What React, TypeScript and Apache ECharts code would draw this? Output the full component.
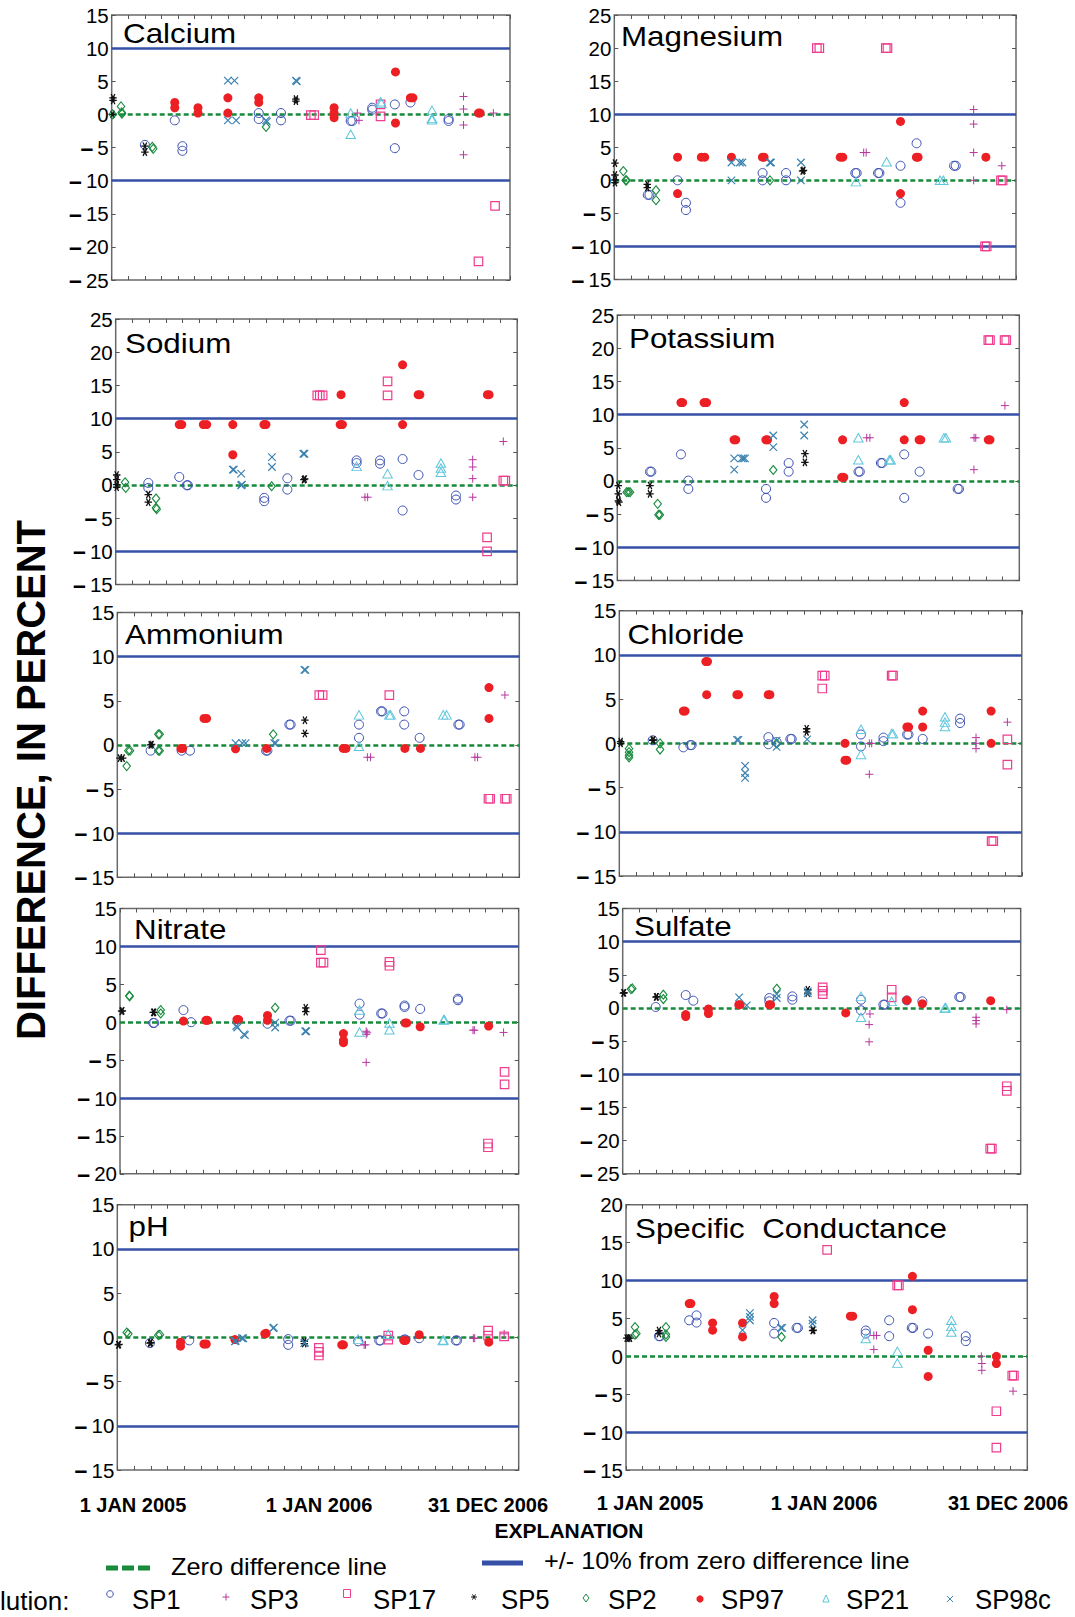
import React, { useEffect, useRef } from 'react';
import * as echarts from 'echarts';

// ---------------- DATA (x = months from start of axis, y = difference in percent) ----------------
const SERIES_NAMES = ['SP1', 'SP3', 'SP17', 'SP5', 'SP2', 'SP97', 'SP21', 'SP98c'];
const DATE_LABELS = ['1 JAN 2005', '1 JAN 2006', '31 DEC 2006'];

// Calcium
const caSP1 = [[2.0,-4.6],[3.8,-0.9],[4.26,-4.8],[4.26,-5.5],[8.86,0.2],[8.86,-0.7],[10.2,0.2],[10.2,-0.9],[14.4,-1.0],[14.5,-1.0],[15.7,0.7],[15.7,1.0],[17.06,1.5],[17.06,-5.1],[18.0,1.8],[20.3,-1.0],[20.3,-0.7]];
const caSP3 = [[14.8,0.2],[14.9,-0.9],[21.2,2.7],[21.2,0.8],[21.2,-1.6],[21.2,-6.1],[23.0,0.2]];
const caSP17 = [[12.0,-0.1],[12.2,-0.1],[16.2,1.5],[16.2,-0.3],[22.1,-22.2],[23.1,-13.8]];
const caSP5 = [[0.08,2.5],[0.08,2.1],[0.05,0],[2.0,-4.8],[2.0,-5.7],[11.1,2.3],[11.1,2.0]];
const caSP2 = [[0.56,1.2],[0.6,0.3],[0.62,0.1],[0.06,0],[2.45,-4.9],[2.5,-5.2],[9.3,-1.9]];
const caSP97 = [[3.8,1.8],[3.8,1.0],[5.2,1.0],[5.2,0.2],[7.0,2.5],[7.0,0.2],[8.86,2.5],[8.86,1.8],[13.4,1.0],[13.4,0.2],[13.4,-0.5],[17.1,6.4],[17.1,-1.3],[18.0,2.5],[18.15,2.5],[22.1,0.2],[22.2,0.2]];
const caSP21 = [[14.4,0.2],[14.4,-3.0],[16.2,1.9],[16.25,1.7],[19.3,0.6],[19.3,-0.6],[19.3,-0.8]];
const caSP98c = [[7.0,5.1],[7.4,5.1],[7.0,-0.9],[7.5,-0.9],[9.3,-0.9],[9.35,-1.1],[11.1,5.1],[11.15,5.0]];

// Magnesium
const mgSP1 = [[2.0,-2.2],[2.1,-2.2],[3.78,0],[4.28,-3.4],[4.28,-4.5],[8.86,1.1],[8.86,0],[10.26,1.1],[10.26,0],[14.4,1.1],[14.48,1.1],[15.76,1.1],[15.84,1.1],[17.1,2.2],[17.1,-3.4],[18.06,5.6],[20.3,2.2],[20.4,2.2]];
const mgSP3 = [[14.9,4.2],[15.05,4.2],[21.47,10.7],[21.47,8.5],[21.47,4.2],[21.47,0],[23.15,2.2]];
const mgSP17 = [[12.1,20],[12.25,20],[16.22,20],[16.32,20],[22.15,-10],[22.25,-10],[23.1,0],[23.2,0]];
const mgSP5 = [[0.04,2.6],[0.04,0.8],[0.04,0.05],[0.04,-0.35],[1.97,-0.6],[1.97,-1.1],[11.25,1.4],[11.3,1.5]];
const mgSP2 = [[0.54,1.4],[0.68,0],[0.73,0],[2.49,-1.5],[2.49,-3.0],[9.3,0]];
const mgSP97 = [[3.78,3.5],[3.78,-2.0],[5.2,3.5],[5.4,3.5],[7.0,3.5],[8.85,3.5],[8.95,3.5],[13.5,3.5],[13.65,3.5],[17.1,8.9],[17.1,-2.0],[18.05,3.5],[18.15,3.5],[22.2,3.5]];
const mgSP21 = [[14.44,-0.2],[16.27,2.8],[19.46,0],[19.66,0]];
const mgSP98c = [[7.0,2.7],[7.5,2.7],[7.65,2.7],[7.0,0],[9.3,2.7],[9.36,2.7],[11.15,2.7],[11.15,0]];

// Sodium
const naSP1 = [[1.95,0.3],[1.95,-0.45],[3.8,1.2],[4.25,-0.05],[4.31,-0.05],[8.88,-1.95],[8.88,-2.45],[10.26,1.0],[10.26,-0.7],[14.4,3.7],[14.4,3.3],[15.8,3.7],[15.8,3.2],[17.15,3.9],[17.15,-3.85],[18.1,1.5],[20.34,-1.6],[20.34,-2.2]];
const naSP3 = [[14.9,-1.85],[15.06,-1.85],[21.34,3.8],[21.34,2.7],[21.34,0.95],[21.34,-1.85],[23.17,6.55]];
const naSP17 = [[12.05,13.5],[12.2,13.5],[12.37,13.5],[16.25,15.6],[16.25,13.5],[22.2,-7.9],[22.2,-10.0],[23.17,0.65],[23.29,0.65]];
const naSP5 = [[0.06,1.5],[0.06,0.8],[0.06,0.05],[0.06,-0.35],[1.95,-1.45],[1.95,-2.6],[11.25,0.8],[11.3,0.9]];
const naSP2 = [[0.56,0.4],[0.6,-0.45],[2.41,-2.05],[2.41,-3.45],[2.45,-3.65],[9.32,-0.2]];
const naSP97 = [[3.8,9.1],[3.95,9.1],[5.24,9.1],[5.44,9.1],[7.0,9.1],[7.0,4.55],[8.86,9.1],[8.98,9.1],[13.47,13.6],[13.42,9.1],[13.55,9.1],[17.15,18.1],[17.15,9.1],[18.08,13.6],[18.18,13.6],[22.22,13.6],[22.32,13.6]];
const naSP21 = [[14.4,2.8],[16.25,1.7],[16.25,-0.1],[19.44,3.3],[19.44,2.55],[19.44,1.9]];
const naSP98c = [[7.0,2.3],[7.06,2.3],[7.5,1.7],[7.5,-0.05],[7.55,0.05],[9.34,4.2],[9.34,2.7],[11.22,4.7],[11.28,4.7]];

// Potassium
const kSP1 = [[1.95,1.4],[2.03,1.4],[3.8,4.0],[4.24,0.05],[4.24,-1.2],[8.88,-1.2],[8.88,-2.55],[10.23,2.7],[10.23,1.4],[14.4,1.4],[14.48,1.4],[15.74,2.7],[15.82,2.7],[17.13,4.0],[17.13,-2.55],[18.05,1.4],[20.32,-1.2],[20.4,-1.2]];
const kSP3 = [[14.89,6.5],[15.08,6.5],[21.29,1.7],[21.3,6.5],[21.4,6.5],[23.14,11.35]];
const kSP17 = [[22.15,21.2],[22.25,21.2],[23.12,21.2],[23.22,21.2]];
const kSP5 = [[0.06,-0.7],[0.06,-1.95],[0.06,-3.0],[0.1,-3.2],[1.95,-0.7],[1.95,-1.95],[11.2,4.1],[11.2,2.8]];
const kSP2 = [[0.56,-1.7],[0.66,-1.7],[0.76,-1.7],[2.41,-3.45],[2.46,-5.1],[2.54,-5.1],[9.31,1.65]];
const kSP97 = [[3.8,11.8],[3.9,11.8],[5.18,11.8],[5.33,11.8],[6.97,6.2],[7.07,6.2],[8.87,6.2],[8.97,6.2],[13.45,6.2],[13.4,0.55],[13.52,0.55],[17.13,11.8],[17.13,6.2],[18.02,6.2],[18.12,6.2],[22.15,6.2],[22.25,6.2]];
const kSP21 = [[14.39,6.5],[14.39,3.2],[16.24,3.2],[16.32,3.2],[19.5,6.5],[19.62,6.5]];
const kSP98c = [[6.98,3.4],[6.98,1.7],[7.42,3.4],[7.52,3.4],[7.62,3.4],[9.31,6.85],[9.31,5.1],[11.16,8.5],[11.16,6.85]];

// Ammonium
const nhSP1 = [[1.99,-0.65],[3.84,-0.65],[4.34,-0.65],[8.88,-0.65],[8.96,-0.65],[10.27,2.3],[10.35,2.3],[14.43,2.3],[14.43,0.8],[15.74,3.8],[15.82,3.8],[17.13,3.8],[17.13,2.3],[18.05,0.8],[20.36,2.3],[20.44,2.3]];
const nhSP3 = [[14.93,-1.4],[15.12,-1.4],[21.35,-1.4],[21.51,-1.4],[23.14,5.65]];
const nhSP17 = [[12.06,5.65],[12.26,5.65],[16.24,5.65],[22.16,-6.1],[22.26,-6.1],[23.15,-6.1],[23.25,-6.1]];
const nhSP5 = [[0.16,-1.5],[0.32,-1.5],[1.99,0],[2.05,0.05],[11.2,2.8],[11.2,1.3]];
const nhSP2 = [[0.56,-2.4],[0.66,-0.65],[0.76,-0.65],[2.45,1.2],[2.53,1.2],[2.45,-0.65],[2.53,-0.65],[9.31,1.2]];
const nhSP97 = [[3.8,-0.4],[3.9,-0.4],[5.18,3.0],[5.33,3.0],[7.06,-0.45],[8.92,-0.4],[13.49,-0.4],[13.65,-0.4],[17.17,-0.4],[18.1,-0.4],[22.19,6.5],[22.19,3.0]];
const nhSP21 = [[14.43,3.4],[14.43,-0.15],[16.24,3.4],[16.32,3.4],[19.46,3.4],[19.66,3.4]];
const nhSP98c = [[7.06,0.2],[7.46,0.2],[7.66,0.2],[9.37,0.2],[9.45,0.2],[11.17,8.5],[11.23,8.5]];

// Chloride
const clSP1 = [[1.99,0.35],[3.82,-0.45],[4.23,-0.2],[4.31,-0.2],[8.89,0.7],[8.89,-0.1],[9.38,0.15],[10.2,0.5],[10.28,0.5],[14.41,1.0],[14.41,-0.35],[15.75,0.65],[15.75,0.25],[17.16,1.0],[17.24,1.0],[18.09,0.5],[20.32,2.8],[20.32,2.3]];
const clSP3 = [[14.91,0],[15.05,0],[14.91,-3.5],[21.27,0.65],[21.27,0],[21.27,-0.6],[23.14,2.4]];
const clSP17 = [[12.1,7.65],[12.25,7.65],[12.1,6.2],[16.24,7.65],[16.32,7.65],[22.2,-11.05],[22.3,-11.05],[23.14,0.45],[23.14,-2.4]];
const clSP5 = [[0.08,0],[0.08,0.2],[1.99,0.35],[2.03,0.4],[11.17,1.65],[11.17,1.3]];
const clSP2 = [[0.58,-0.6],[0.58,-1.0],[0.58,-1.35],[0.58,-1.6],[2.43,0],[2.43,-0.7],[9.38,0]];
const clSP97 = [[3.82,3.65],[3.92,3.65],[5.16,9.25],[5.26,9.25],[5.21,5.5],[7.01,5.5],[7.11,5.5],[8.88,5.5],[8.98,5.5],[13.46,0],[13.46,-1.9],[13.56,-1.9],[17.15,1.85],[17.25,1.85],[18.09,3.65],[18.09,1.85],[22.17,3.65],[22.17,0]];
const clSP21 = [[14.41,1.6],[14.41,-1.25],[16.24,1.1],[16.32,1.1],[19.42,3.0],[19.42,2.4],[19.42,1.9]];
const clSP98c = [[7.02,0.4],[7.1,0.4],[7.5,-2.55],[7.5,-3.35],[7.5,-3.9],[9.38,-0.4],[9.38,0.3],[11.2,0.45]];

// Nitrate
const noSP1 = [[2.0,-0.1],[2.06,-0.1],[3.82,1.6],[4.28,0],[8.88,-0.2],[10.2,0.2],[10.28,0.2],[14.42,2.45],[14.42,1.0],[15.72,1.15],[15.8,1.15],[17.13,2.0],[17.13,2.2],[18.07,1.75],[20.34,2.9],[20.34,3.1]];
const noSP3 = [[14.82,-1.2],[14.82,-1.6],[14.88,-1.4],[14.82,-5.3],[21.25,-1.05],[21.33,-1.05],[23.09,-1.35]];
const noSP17 = [[12.09,9.5],[12.09,7.85],[12.25,7.85],[16.22,7.95],[16.22,7.45],[22.15,-16.0],[22.15,-16.5],[23.15,-6.55],[23.15,-8.2]];
const noSP5 = [[0.1,1.45],[0.14,1.5],[2.0,1.3],[2.05,1.3],[11.18,1.4],[11.18,1.9]];
const noSP2 = [[0.56,3.5],[0.58,3.4],[2.45,1.6],[2.45,1.15],[9.34,1.9]];
const noSP97 = [[3.82,0.15],[5.17,0.25],[5.27,0.25],[7.04,0.35],[7.14,0.35],[8.88,0.9],[8.88,0.25],[13.45,-1.5],[13.45,-2.4],[13.45,-2.7],[17.16,-0.1],[17.26,-0.1],[18.07,-0.6],[22.19,-0.5]];
const noSP21 = [[14.42,1.6],[14.42,-1.3],[16.22,-0.1],[16.22,-1.0],[19.48,0.3],[19.52,0.35]];
const noSP98c = [[7.0,-0.5],[7.06,-0.7],[7.46,-1.6],[7.52,-1.7],[9.34,-0.7],[9.34,-0.05],[11.15,-1.2],[11.21,-1.2]];

// Sulfate
const soSP1 = [[1.99,0.15],[3.8,1.95],[4.26,1.1],[8.84,1.5],[8.84,1.0],[10.23,1.75],[10.23,1.25],[14.37,1.25],[14.37,-0.35],[15.72,0.5],[15.8,0.5],[17.13,1.15],[18.07,1.0],[20.3,1.65],[20.38,1.65]];
const soSP3 = [[14.91,-0.9],[14.86,-2.5],[14.86,-5.1],[21.31,-1.4],[21.31,-1.9],[21.31,-2.4],[23.16,-0.25]];
const soSP17 = [[12.06,3.1],[12.06,2.6],[12.06,2.1],[16.22,2.75],[16.22,1.6],[22.16,-21.2],[22.26,-21.2],[23.16,-11.8],[23.16,-12.5]];
const soSP5 = [[0.04,2.25],[0.08,2.3],[2.01,1.65],[2.05,1.7],[11.16,2.75],[11.16,2.25]];
const soSP2 = [[0.5,2.85],[0.58,2.95],[2.45,2.0],[2.45,1.35],[9.29,2.9]];
const soSP97 = [[3.8,-1.0],[3.8,-1.3],[5.17,-0.15],[5.17,-0.85],[7.0,0.5],[7.08,0.5],[8.84,0.5],[8.92,0.5],[13.45,-0.75],[17.13,1.15],[18.07,0.65],[22.19,1.1]];
const soSP21 = [[14.37,1.75],[14.37,-1.4],[16.22,1.0],[19.42,0],[19.48,0.05]];
const soSP98c = [[7.02,1.6],[7.48,0.4],[9.29,2.1],[9.29,1.5],[11.16,2.5],[11.16,2.2]];

// pH
const phSP1 = [[1.95,-0.65],[4.3,-0.35],[10.22,-0.2],[10.22,-0.85],[14.4,-0.45],[15.66,-0.35],[15.74,-0.35],[17.15,-0.25],[17.23,-0.25],[18.05,-0.1],[20.24,-0.35],[20.32,-0.35]];
const phSP3 = [[14.76,-0.85],[14.84,-0.85],[21.29,-0.1],[21.37,-0.1],[23.13,0.4]];
const phSP17 = [[12.05,-1.2],[12.05,-1.65],[12.05,-2.05],[16.2,0.2],[16.2,-0.25],[22.17,0.75],[22.17,0.2],[23.13,0.1]];
const phSP5 = [[0.06,-0.85],[0.1,-0.8],[1.95,-0.65],[2.0,-0.6],[11.18,-0.45],[11.18,-0.7]];
const phSP2 = [[0.56,0.55],[0.66,0.4],[2.45,0.25],[2.55,0.3]];
const phSP97 = [[3.78,-0.55],[3.78,-1.0],[5.18,-0.75],[5.32,-0.75],[7.03,-0.25],[8.82,0.4],[8.9,0.45],[13.42,-0.85],[13.52,-0.85],[17.14,-0.35],[17.24,-0.35],[18.05,0.3],[22.21,-0.55]];
const phSP21 = [[14.4,-0.2],[16.2,0.35],[19.46,-0.35],[19.5,-0.3]];
const phSP98c = [[7.03,-0.45],[7.08,-0.4],[7.45,-0.1],[7.53,-0.1],[9.32,1.05],[9.36,1.1],[11.18,-0.65],[11.22,-0.6]];

// Specific conductance
const scSP1 = [[1.97,2.65],[2.03,2.65],[3.78,4.75],[4.22,5.4],[4.22,4.45],[8.86,4.4],[8.86,3.0],[10.2,3.75],[10.28,3.75],[14.34,3.4],[14.34,3.0],[15.74,4.75],[15.74,2.65],[17.09,3.75],[17.17,3.75],[18.07,3.0],[20.32,2.65],[20.32,2.0]];
const scSP3 = [[14.82,2.75],[14.98,2.75],[14.82,0.9],[21.25,0],[21.28,-0.95],[21.28,-1.85],[23.15,-4.6]];
const scSP17 = [[12.03,14.05],[16.22,9.35],[16.32,9.35],[22.15,-7.25],[22.15,-12.05],[23.1,-2.55],[23.2,-2.55]];
const scSP5 = [[0.04,2.4],[0.14,2.4],[0.24,2.4],[1.97,3.4],[1.97,3.0],[11.16,3.4],[11.2,3.45]];
const scSP2 = [[0.54,3.85],[0.54,2.85],[0.62,3.0],[2.39,3.85],[2.39,2.9],[2.39,2.55],[9.3,2.55]];
const scSP97 = [[3.78,6.95],[3.88,6.95],[5.18,4.4],[5.18,3.45],[6.97,4.4],[6.97,2.55],[8.86,7.9],[8.86,6.95],[13.42,5.3],[13.56,5.3],[17.13,10.55],[17.13,6.15],[18.07,0.8],[18.07,-2.65],[22.15,0],[22.15,-0.95]];
const scSP21 = [[14.34,2.35],[16.23,0.65],[16.23,-0.9],[19.46,4.75],[19.46,3.95],[19.46,3.2]];
const scSP98c = [[6.97,3.45],[7.41,5.7],[7.41,5.2],[7.41,4.75],[9.26,3.75],[9.34,3.75],[11.16,4.75],[11.16,4.3]];

// ---------------- LAYOUT / STYLE ----------------
const FONT = "'Liberation Sans', Arial, Helvetica, sans-serif";
const BLUE_LINE = '#3550a6';
const GREEN_LINE = '#178a3c';
const FRAME = '#6a6a6a';

const COLORS: Record<string, string> = {
  SP1: '#3a4fb2',
  SP3: '#b8379f',
  SP17: '#ef3d8e',
  SP5: '#111111',
  SP2: '#178a3c',
  SP97: '#ec2024',
  SP21: '#5ec6dc',
  SP98c: '#3b82b0',
};

const PLUS = 'path://M5,0L5,10M0,5L10,5';
const CROSS = 'path://M0,0L10,10M10,0L0,10';
const STAR = 'path://M0,5L10,5M2.5,0.67L7.5,9.33M2.5,9.33L7.5,0.67';

const SYMBOLS: Record<string, any> = {
  SP1: { symbol: 'circle', size: 9, fill: 'transparent', lw: 1 },
  SP3: { symbol: PLUS, size: 8, fill: 'transparent', lw: 1 },
  SP17: { symbol: 'rect', size: [8.5, 8.5], fill: 'transparent', lw: 1.2 },
  SP5: { symbol: STAR, size: 7.5, fill: 'transparent', lw: 1.3 },
  SP2: { symbol: 'diamond', size: [7.5, 9], fill: 'transparent', lw: 1.1 },
  SP97: { symbol: 'circle', size: 9, fill: 'solid', lw: 0 },
  SP21: { symbol: 'triangle', size: [9.5, 8.5], fill: 'transparent', lw: 1 },
  SP98c: { symbol: CROSS, size: 7.5, fill: 'transparent', lw: 1.2 },
};

const panels = [
  { title: 'Calcium', min: -25, max: 15, box: [111.7, 15, 398.3, 265], t: [123, 33.5],
    data: { SP1: caSP1, SP3: caSP3, SP17: caSP17, SP5: caSP5, SP2: caSP2, SP97: caSP97, SP21: caSP21, SP98c: caSP98c } },
  { title: 'Magnesium', min: -15, max: 25, box: [614.3, 15, 401.7, 264.5], t: [621, 36.5],
    data: { SP1: mgSP1, SP3: mgSP3, SP17: mgSP17, SP5: mgSP5, SP2: mgSP2, SP97: mgSP97, SP21: mgSP21, SP98c: mgSP98c } },
  { title: 'Sodium', min: -15, max: 25, box: [115.7, 319, 401.5, 265.5], t: [125, 343.5],
    data: { SP1: naSP1, SP3: naSP3, SP17: naSP17, SP5: naSP5, SP2: naSP2, SP97: naSP97, SP21: naSP21, SP98c: naSP98c } },
  { title: 'Potassium', min: -15, max: 25, box: [617.3, 315, 402, 265.5], t: [629, 338],
    data: { SP1: kSP1, SP3: kSP3, SP17: kSP17, SP5: kSP5, SP2: kSP2, SP97: kSP97, SP21: kSP21, SP98c: kSP98c } },
  { title: 'Ammonium', min: -15, max: 15, box: [117.3, 612.5, 402, 264.8], t: [125, 634.5],
    data: { SP1: nhSP1, SP3: nhSP3, SP17: nhSP17, SP5: nhSP5, SP2: nhSP2, SP97: nhSP97, SP21: nhSP21, SP98c: nhSP98c } },
  { title: 'Chloride', min: -15, max: 15, box: [619.3, 610.7, 402.5, 265.3], t: [627.5, 634],
    data: { SP1: clSP1, SP3: clSP3, SP17: clSP17, SP5: clSP5, SP2: clSP2, SP97: clSP97, SP21: clSP21, SP98c: clSP98c } },
  { title: 'Nitrate', min: -20, max: 15, box: [120, 908.5, 398.7, 265.3], t: [134, 929.5],
    data: { SP1: noSP1, SP3: noSP3, SP17: noSP17, SP5: noSP5, SP2: noSP2, SP97: noSP97, SP21: noSP21, SP98c: noSP98c } },
  { title: 'Sulfate', min: -25, max: 15, box: [622.7, 908.5, 398, 265.3], t: [634, 926],
    data: { SP1: soSP1, SP3: soSP3, SP17: soSP17, SP5: soSP5, SP2: soSP2, SP97: soSP97, SP21: soSP21, SP98c: soSP98c } },
  { title: 'pH', min: -15, max: 15, box: [117.3, 1204.7, 401.4, 265.3], t: [128.5, 1226.5],
    data: { SP1: phSP1, SP3: phSP3, SP17: phSP17, SP5: phSP5, SP2: phSP2, SP97: phSP97, SP21: phSP21, SP98c: phSP98c } },
  { title: 'Specific  Conductance', min: -15, max: 20, box: [626, 1204.7, 401.3, 265.3], t: [635, 1228.5],
    data: { SP1: scSP1, SP3: scSP3, SP17: scSP17, SP5: scSP5, SP2: scSP2, SP97: scSP97, SP21: scSP21, SP98c: scSP98c } },
];

function buildOption() {
  const grid: any[] = [];
  const xAxis: any[] = [];
  const yAxis: any[] = [];
  const series: any[] = [];
  const graphic: any[] = [];

  const tick = { show: true, inside: true, length: 4, lineStyle: { color: '#555', width: 1 } };

  panels.forEach((p, i) => {
    grid.push({
      left: p.box[0], top: p.box[1], width: p.box[2], height: p.box[3],
      show: true, borderColor: FRAME, borderWidth: 1.5, backgroundColor: 'transparent',
    });
    const xBase = {
      type: 'value', gridIndex: i, min: 0, max: 24, interval: 1,
      axisLine: { show: false, onZero: false }, axisLabel: { show: false }, splitLine: { show: false }, axisTick: tick,
    };
    xAxis.push({ ...xBase, position: 'bottom' });
    xAxis.push({ ...xBase, position: 'top' });
    const yBase = {
      type: 'value', gridIndex: i, min: p.min, max: p.max, interval: 5,
      axisLine: { show: false, onZero: false }, splitLine: { show: false }, axisTick: tick,
    };
    yAxis.push({
      ...yBase, position: 'left',
      axisLabel: {
        show: true, margin: 3, color: '#000', fontSize: 20.5, fontFamily: FONT,
        formatter: (v: number) => (v < 0 ? '{m|\u2013}\u2009' + Math.abs(v) : String(v)),
        rich: { m: { fontSize: 23, fontWeight: 'bold', fontFamily: FONT, color: '#000' } },
      },
    });
    yAxis.push({ ...yBase, position: 'right', axisLabel: { show: false } });

    SERIES_NAMES.forEach((name, k) => {
      const st = SYMBOLS[name];
      const c = COLORS[name];
      const s: any = {
        type: 'scatter', name, xAxisIndex: 2 * i, yAxisIndex: 2 * i,
        data: (p.data as any)[name],
        symbol: st.symbol, symbolSize: st.size, silent: true, z: 10,
        itemStyle: st.fill === 'solid'
          ? { color: c, borderWidth: 0, opacity: 1 }
          : { color: 'transparent', borderColor: c, borderWidth: st.lw, opacity: 1 },
      };
      if (k === 0) {
        s.markLine = {
          silent: true, symbol: ['none', 'none'], label: { show: false }, z: 5,
          emphasis: { disabled: true },
          data: [
            { yAxis: 10, lineStyle: { color: BLUE_LINE, width: 2.5, type: 'solid' } },
            { yAxis: -10, lineStyle: { color: BLUE_LINE, width: 2.5, type: 'solid' } },
            { yAxis: 0, lineStyle: { color: GREEN_LINE, width: 2.5, type: [5, 3] } },
          ],
        };
      }
      series.push(s);
    });

    graphic.push({
      type: 'text', x: p.t[0], y: p.t[1], scaleX: 1.12, silent: true,
      style: { text: p.title, fontSize: 28, fontFamily: FONT, fill: '#000', align: 'left', verticalAlign: 'middle' },
    });
  });

  // Y axis title
  graphic.push({
    type: 'text', x: 31, y: 780, rotation: Math.PI / 2, silent: true,
    style: { text: 'DIFFERENCE, IN PERCENT', fontSize: 40, fontWeight: 'bold', fontFamily: FONT, fill: '#000', align: 'center', verticalAlign: 'middle' },
  });

  // Date labels under bottom panels
  const dateXs = [[133, 319, 488], [650, 824, 1008]];
  const dateYs = [1505, 1503];
  dateXs.forEach((xs, col) => {
    xs.forEach((x, j) => {
      graphic.push({
        type: 'text', x, y: dateYs[col], silent: true,
        style: { text: DATE_LABELS[j], fontSize: 20, fontWeight: 'bold', fontFamily: FONT, fill: '#000', align: 'center', verticalAlign: 'middle' },
      });
    });
  });

  // Explanation
  graphic.push({
    type: 'text', x: 569, y: 1530, silent: true,
    style: { text: 'EXPLANATION', fontSize: 21, fontWeight: 'bold', fontFamily: FONT, fill: '#000', align: 'center', verticalAlign: 'middle' },
  });
  graphic.push({ type: 'line', silent: true, shape: { x1: 106, y1: 1568, x2: 150, y2: 1568 }, style: { stroke: GREEN_LINE, lineWidth: 5, lineDash: [12, 4] } });
  graphic.push({
    type: 'text', x: 171, y: 1567, scaleX: 1.1, silent: true,
    style: { text: 'Zero difference line', fontSize: 23, fontFamily: FONT, fill: '#000', align: 'left', verticalAlign: 'middle' },
  });
  graphic.push({ type: 'line', silent: true, shape: { x1: 482, y1: 1563, x2: 523, y2: 1563 }, style: { stroke: BLUE_LINE, lineWidth: 5 } });
  graphic.push({
    type: 'text', x: 544, y: 1561, scaleX: 1.1, silent: true,
    style: { text: '+/- 10% from zero difference line', fontSize: 23, fontFamily: FONT, fill: '#000', align: 'left', verticalAlign: 'middle' },
  });

  // Sample legend row (the reference shows this label cut at the page edge: "lution:")
  graphic.push({
    type: 'text', x: 0, y: 1601, silent: true,
    style: { text: 'lution:', fontSize: 26, fontFamily: FONT, fill: '#000', align: 'left', verticalAlign: 'middle' },
  });
  const legX = [110, 226, 347, 474, 586, 700, 826, 950];
  const legTextX = [132, 250, 373, 501, 608, 721, 846, 975];
  const my = 1594;
  const ln = (x1: number, y1: number, x2: number, y2: number, c: string) => ({
    type: 'line', silent: true, shape: { x1, y1, x2, y2 }, style: { stroke: c, lineWidth: 1 },
  });
  SERIES_NAMES.forEach((name, k) => {
    const x = legX[k];
    const c = COLORS[name];
    if (name === 'SP1') graphic.push({ type: 'circle', silent: true, shape: { cx: x, cy: my, r: 3.3 }, style: { fill: 'none', stroke: c, lineWidth: 1 } });
    if (name === 'SP3') { graphic.push(ln(x - 3.5, my + 3, x + 3.5, my + 3, c)); graphic.push(ln(x, my - 0.5, x, my + 6.5, c)); }
    if (name === 'SP17') graphic.push({ type: 'rect', silent: true, shape: { x: x - 3.5, y: my - 4.5, width: 7, height: 8 }, style: { fill: 'none', stroke: c, lineWidth: 1 } });
    if (name === 'SP5') { graphic.push(ln(x - 3, my + 3, x + 3, my + 3, c)); graphic.push(ln(x - 1.5, my + 0.4, x + 1.5, my + 5.6, c)); graphic.push(ln(x - 1.5, my + 5.6, x + 1.5, my + 0.4, c)); }
    if (name === 'SP2') graphic.push({ type: 'polygon', silent: true, shape: { points: [[x, my], [x + 3, my + 4], [x, my + 8], [x - 3, my + 4]] }, style: { fill: 'none', stroke: c, lineWidth: 1 } });
    if (name === 'SP97') graphic.push({ type: 'circle', silent: true, shape: { cx: x, cy: my + 5, r: 3.6 }, style: { fill: c } });
    if (name === 'SP21') graphic.push({ type: 'polygon', silent: true, shape: { points: [[x, my + 1], [x + 3.2, my + 8], [x - 3.2, my + 8]] }, style: { fill: 'none', stroke: c, lineWidth: 1 } });
    if (name === 'SP98c') { graphic.push(ln(x - 3, my + 2, x + 3, my + 8, c)); graphic.push(ln(x - 3, my + 8, x + 3, my + 2, c)); }
    graphic.push({
      type: 'text', x: legTextX[k], y: 1600, scaleX: 0.92, silent: true,
      style: { text: name, fontSize: 28, fontFamily: FONT, fill: '#000', align: 'left', verticalAlign: 'middle' },
    });
  });

  return {
    animation: false,
    backgroundColor: '#fff',
    grid, xAxis, yAxis, series, graphic,
  };
}

export default function App() {
  const ref = useRef<HTMLDivElement>(null);
  useEffect(() => {
    document.body.style.margin = '0';
    if (!ref.current) return;
    const chart = echarts.init(ref.current, null, { renderer: 'svg' });
    chart.setOption(buildOption() as any);
    return () => chart.dispose();
  }, []);
  return <div ref={ref} style={{ width: 1075, height: 1617 }} />;
}
